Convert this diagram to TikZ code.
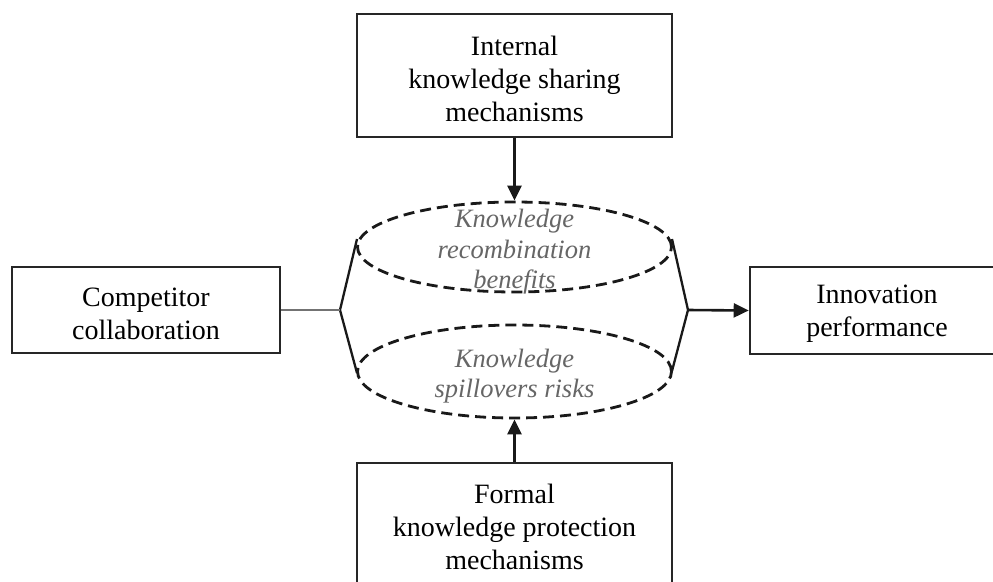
\documentclass[tikz,border=0pt]{standalone}
\usepackage{fontspec}
\setmainfont{Liberation Serif}
\usetikzlibrary{arrows.meta,shapes.geometric}
\tikzset{
  box/.style={draw=black!85, line width=2.6pt, fill=white, inner sep=0pt},
  btxt/.style={align=center, inner sep=0pt, font=\fontsize{28}{33}\selectfont},
  dashell/.style={draw=black!90, ellipse, line width=2.8pt, dash pattern=on 11pt off 6pt, inner sep=0pt},
  itxt/.style={align=center, text=black!60, font=\fontsize{26.5}{30.5}\selectfont\itshape, inner sep=0pt},
  conn/.style={draw=black!90, line width=2.6pt},
  arr/.style={conn, -{Triangle[length=15pt,width=14pt]}}
}
\begin{document}
\begin{tikzpicture}[x=1pt,y=-1pt]
\useasboundingbox (0,0) rectangle (993,581);
\clip (0,0) rectangle (993,581);
\fill[white] (0,0) rectangle (993,581);
% boxes
\node[box, minimum width=315pt, minimum height=123pt] (top) at (514.5,75.5) {};
\node[btxt] (toptxt) at (514.5,79) {Internal\\knowledge sharing\\mechanisms};
\node[box, minimum width=315pt, minimum height=122pt] (bot) at (514.5,524) {};
\node[btxt] (bottxt) at (514.5,527) {Formal\\knowledge protection\\mechanisms};
\node[box, minimum width=268pt, minimum height=86pt] (comp) at (146,310) {};
\node[btxt] (comptxt) at (146,314) {Competitor\\collaboration};
\node[box, minimum width=254pt, minimum height=87pt] (innov) at (877,310.5) {};
\node[btxt] (innovtxt) at (877,314) {Innovation\\performance};
% central shape
\node[dashell, minimum width=314pt, minimum height=90pt] (ben) at (514.5,247) {};
\node[dashell, minimum width=314pt, minimum height=93pt] (risk) at (514.5,371.5) {};
\node[itxt] (bentxt) at (514.5,252) {Knowledge\\recombination\\benefits};
\node[itxt] (risktxt) at (514.5,376) {Knowledge\\spillovers risks};
\coordinate (L) at (340,310);
\coordinate (R) at (688,310);
\coordinate (LT) at (357,239);
\coordinate (LB) at (357,373);
\coordinate (RT) at (672,239);
\coordinate (RB) at (672,371);
\draw[conn, line width=2.3pt, line join=miter] (LT) -- (L) -- (LB);
\draw[conn, line width=2.3pt, line join=miter] (RT) -- (R) -- (RB);
% connectors
\draw[draw=black!55, line width=2.6pt] (comp.east) -- (L);
\draw[arr] (R) -- (innov.west);
\draw[arr] (top.south) -- (ben.north);
\draw[arr] (bot.north) -- (risk.south);
\end{tikzpicture}
\end{document}
